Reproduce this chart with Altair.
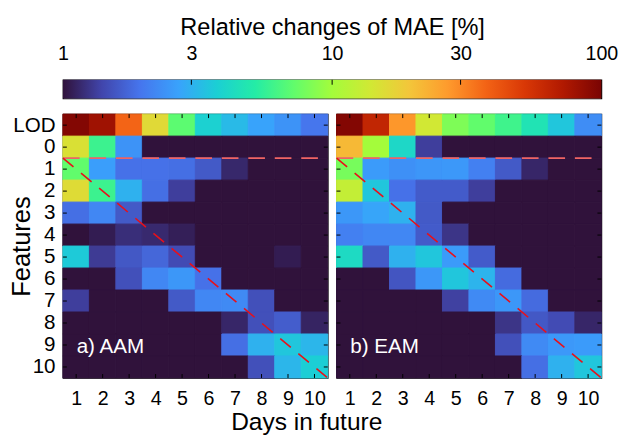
import altair as alt
import pandas as pd

# ---------------- data ----------------
days = list(range(1, 11))
features = ["LOD", "0", "1", "2", "3", "4", "5", "6", "7", "8", "9", "10"]

aam_lod = [95, 80, 37, 16, 7.0, 3.8, 3.2, 2.7, 2.4, 1.95]
aam_f0 = [15, 5.9, 2.4, 1, 1, 1, 1, 1, 1, 1]
aam_f1 = [7.2, 2.6, 1.88, 1.88, 1.85, 1.6, 1.15, 1, 1, 1]
aam_f2 = [15.8, 5.9, 3.0, 1.85, 1.33, 1, 1, 1, 1, 1]
aam_f3 = [1.85, 2.2, 1.6, 1, 1, 1, 1, 1, 1, 1]
aam_f4 = [1, 1.07, 1.2, 1.16, 1.09, 1, 1, 1, 1, 1]
aam_f5 = [3.6, 1.3, 1.58, 1.75, 1.45, 1, 1, 1, 1.07, 1]
aam_f6 = [1, 1, 1.5, 2.2, 2.47, 1.88, 1, 1, 1, 1]
aam_f7 = [1.33, 1, 1, 1, 1.6, 2.2, 2.25, 1.5, 1, 1]
aam_f8 = [1, 1, 1, 1, 1, 1, 1.14, 1.5, 1.64, 1.12]
aam_f9 = [1, 1, 1, 1, 1, 1, 1.85, 3.0, 3.5, 3.1]
aam_f10 = [1, 1, 1, 1, 1, 1, 1, 1.5, 3.1, 3.7]

eam_lod = [95, 63, 27.5, 13.9, 8.3, 7.2, 6.0, 4.7, 3.5, 2.3]
eam_f0 = [21.3, 10, 4.1, 1.33, 1, 1, 1, 1, 1, 1]
eam_f1 = [8.0, 2.55, 2.35, 2.45, 2.5, 2.1, 1.6, 1.14, 1, 1]
eam_f2 = [12.5, 3.5, 1.88, 1.62, 1.62, 1.33, 1, 1, 1, 1]
eam_f3 = [2.47, 2.75, 3.0, 1.6, 1, 1, 1, 1, 1, 1]
eam_f4 = [2.1, 2.2, 2.2, 1.62, 1.25, 1, 1, 1, 1, 1]
eam_f5 = [4.2, 1.6, 3.0, 3.5, 2.55, 1.62, 1, 1, 1, 1]
eam_f6 = [1, 1, 1.55, 2.47, 3.5, 3.05, 1.8, 1, 1, 1]
eam_f7 = [1, 1, 1, 1, 1.35, 2.25, 2.47, 1.8, 1, 1]
eam_f8 = [1, 1, 1, 1, 1, 1, 1.25, 1.58, 1.45, 1.14]
eam_f9 = [1, 1, 1, 1, 1, 1, 1.5, 2.25, 2.5, 2.55]
eam_f10 = [1, 1, 1, 1, 1, 1, 1, 1.85, 3.0, 3.5]

aam_rows = [aam_lod, aam_f0, aam_f1, aam_f2, aam_f3, aam_f4, aam_f5,
            aam_f6, aam_f7, aam_f8, aam_f9, aam_f10]
eam_rows = [eam_lod, eam_f0, eam_f1, eam_f2, eam_f3, eam_f4, eam_f5,
            eam_f6, eam_f7, eam_f8, eam_f9, eam_f10]

panel_labels = ["a) AAM", "b) EAM"]

# reference lines (day axis, feature-row axis)
hline_x = [0.5, 10.5]
hline_y = [1.5, 1.5]
diag_x = [0.5, 10.5]
diag_y = [1.5, 11.5]

cbar_range = [1, 100]
cbar_ticks = [1, 3, 10, 30, 100]
cbar_inner_ticks = [3, 10, 30]

# ---------------- style ----------------
TURBO = ["#30123b", "#4145ab", "#4675ed", "#39a2fc", "#1bcfd4", "#24eca6",
         "#61fc6c", "#a4fc3b", "#d1e834", "#f3c63a", "#fe9b2d", "#f36315",
         "#d93806", "#b11901", "#7a0403"]
n = len(TURBO)
CDOM = [10 ** (2.0 * i / (n - 1)) for i in range(n)]
cscale = alt.Scale(type="log", domain=CDOM, range=TURBO, clamp=True,
                   interpolate="rgb")

W, H = 270, 269
FONT = "Liberation Sans"


def table(rows):
    recs = []
    for r, vals in enumerate(rows):
        for d, v in zip(days, vals):
            recs.append({"r": r, "day": d, "value": v})
    return pd.DataFrame(recs)


xscale = alt.Scale(domain=[0.5, 10.5], nice=False, zero=False)
yscale = alt.Scale(domain=[-0.5, 11.5], reverse=True, nice=False, zero=False)

days_df = pd.DataFrame({"day": days})
rows_df = pd.DataFrame({"r": list(range(len(features)))})
label_expr = "datum.value == 0 ? 'LOD' : '' + (datum.value - 1)"


def make_panel(rows, label, first):
    df = table(rows)
    xaxis = alt.Axis(values=days, title=None, labelFontSize=20, labelPadding=11,
                     labelOverlap=False, labelFlush=False, ticks=False,
                     domain=False, grid=False, format="d")
    if first:
        yaxis = alt.Axis(values=list(range(len(features))), labelExpr=label_expr,
                         labelFontSize=21, labelPadding=8, labelOverlap=False,
                         labelFlush=False, ticks=False, domain=False, grid=False,
                         title="Features", titleFontSize=26,
                         titleFontWeight="normal", titleX=-42, titleY=H / 2,
                         titleAngle=270, titleBaseline="middle",
                         titleAlign="center")
    else:
        yaxis = None
    rect = alt.Chart(df).transform_calculate(
        x0="datum.day - 0.5", x1="datum.day + 0.5",
        y0="datum.r - 0.5", y1="datum.r + 0.5"
    ).mark_rect(strokeWidth=1).encode(
        x=alt.X("x0:Q", scale=xscale, axis=xaxis),
        x2="x1:Q",
        y=alt.Y("y0:Q", scale=yscale, axis=yaxis),
        y2="y1:Q",
        color=alt.Color("value:Q", scale=cscale, legend=None),
        stroke=alt.Color("value:Q", scale=cscale, legend=None),
    )
    hl = alt.Chart(pd.DataFrame({"x": hline_x, "y": hline_y})).mark_line(
        color="#f06464", strokeWidth=1.6, strokeDash=[17, 10]
    ).encode(x=alt.X("x:Q", scale=xscale, axis=None),
             y=alt.Y("y:Q", scale=yscale, axis=None))
    dl = alt.Chart(pd.DataFrame({"x": diag_x, "y": diag_y})).mark_line(
        color="#e8101a", strokeWidth=1.6, strokeDash=[14, 10]
    ).encode(x=alt.X("x:Q", scale=xscale, axis=None),
             y=alt.Y("y:Q", scale=yscale, axis=None))
    tb = alt.Chart(days_df).mark_rule(color="black", strokeWidth=1).encode(
        x=alt.X("day:Q", scale=xscale, axis=None),
        y=alt.value(H), y2=alt.value(H - 4))
    tt = alt.Chart(days_df).mark_rule(color="black", strokeWidth=1).encode(
        x=alt.X("day:Q", scale=xscale, axis=None),
        y=alt.value(0), y2=alt.value(4))
    tl = alt.Chart(rows_df).mark_rule(color="black", strokeWidth=1).encode(
        y=alt.Y("r:Q", scale=yscale, axis=None),
        x=alt.value(0), x2=alt.value(4))
    tr = alt.Chart(rows_df).mark_rule(color="black", strokeWidth=1).encode(
        y=alt.Y("r:Q", scale=yscale, axis=None),
        x=alt.value(W), x2=alt.value(W - 4))
    txt = alt.Chart(pd.DataFrame({"t": [label]})).mark_text(
        align="left", baseline="middle", fontSize=21, color="white", font=FONT
    ).encode(x=alt.value(14), y=alt.value(238), text="t:N")
    return alt.layer(rect, hl, dl, tb, tt, tl, tr, txt).resolve_axis(
        x="independent", y="independent").properties(width=W, height=H)


pa = make_panel(aam_rows, panel_labels[0], True)
pb = make_panel(eam_rows, panel_labels[1], False)

grad = alt.LinearGradient(
    gradient="linear", x1=0, x2=1, y1=0, y2=0,
    stops=[alt.GradientStop(color=c, offset=i / (n - 1)) for i, c in enumerate(TURBO)])

cbscale = alt.Scale(type="log", domain=cbar_range, nice=False)
cb_rect = alt.Chart(pd.DataFrame({"lo": [cbar_range[0]], "hi": [cbar_range[1]]})).mark_rect(
    color=grad
).encode(
    x=alt.X("lo:Q", scale=cbscale,
            axis=alt.Axis(orient="top", values=cbar_ticks, format="d",
                          title="Relative changes of MAE [%]", titleFontSize=24,
                          titleFontWeight="normal", titlePadding=4,
                          labelFontSize=20, labelPadding=17, labelOverlap=False,
                          labelFlush=False, ticks=False, domain=False,
                          grid=False)),
    x2="hi:Q",
)
cb_ticks = alt.Chart(pd.DataFrame({"v": cbar_inner_ticks})).mark_rule(
    color="black", strokeWidth=1
).encode(x=alt.X("v:Q", scale=cbscale, axis=None),
         y=alt.value(0), y2=alt.value(5))
colorbar = alt.layer(cb_rect, cb_ticks).resolve_axis(x="independent").properties(
    width=549, height=19)

panels = alt.hconcat(pa, pb, spacing=9, bounds="flush").properties(
    title=alt.TitleParams("Days in future", orient="bottom", anchor="middle",
                          fontSize=25, fontWeight="normal",
                          offset=1, font=FONT, color="black"))

chart = alt.vconcat(colorbar, panels, spacing=16, bounds="flush").properties(
    padding={"top": 3, "left": 0, "right": 0, "bottom": 0},
).configure(font=FONT, background="white").configure_view(
    stroke="black", strokeWidth=1.2
).configure_axis(labelColor="black", titleColor="black", labelFont=FONT,
                 titleFont=FONT)

chart.save("out.html", embed_options={"renderer": "svg", "actions": False})
